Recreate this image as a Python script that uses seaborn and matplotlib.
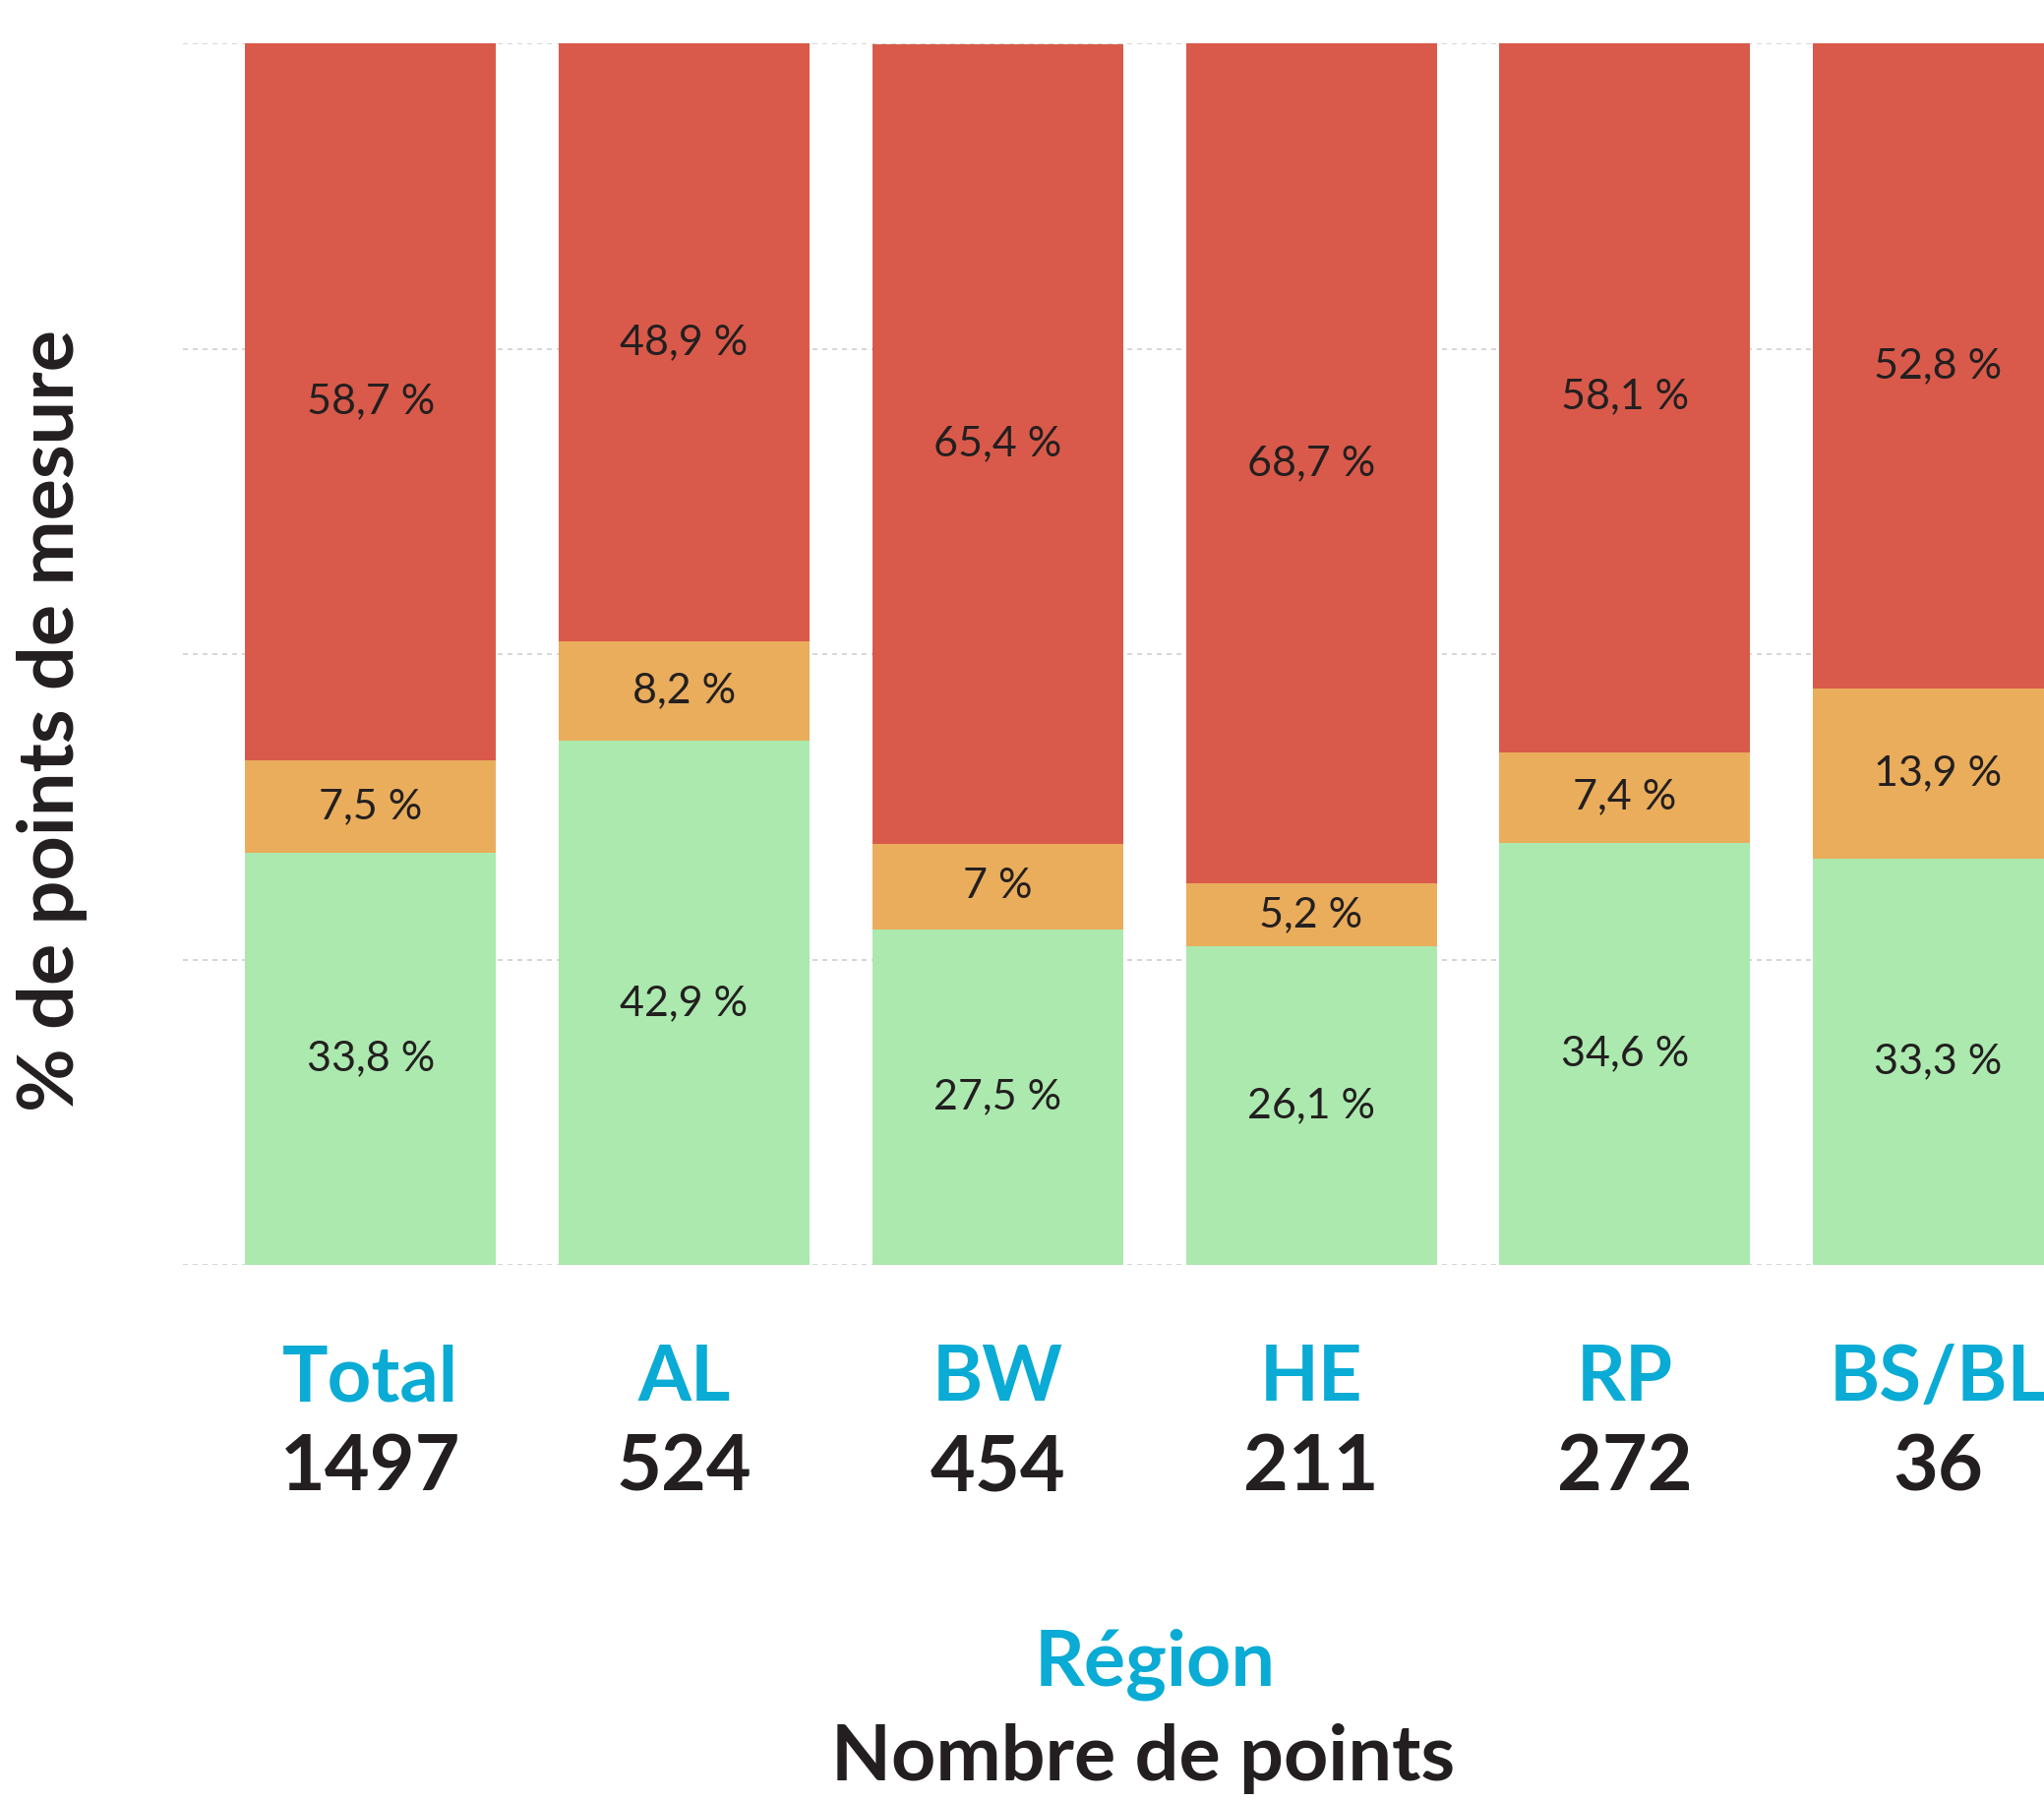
import matplotlib.pyplot as plt
import seaborn as sns
import pandas as pd

regions = ["Total", "AL", "BW", "HE", "RP", "BS/BL"]
counts = [1497, 524, 454, 211, 272, 36]
green_pct = [33.8, 42.9, 27.5, 26.1, 34.6, 33.3]
orange_pct = [7.5, 8.2, 7.0, 5.2, 7.4, 13.9]
red_pct = [58.7, 48.9, 65.4, 68.7, 58.1, 52.8]

RED = "#D95A4A"
ORANGE = "#E9AD5C"
GREEN = "#ABE9AE"
CYAN = "#0AABD4"
DARK = "#231F20"


def fmt(v):
    s = f"{v:.1f}".replace(".", ",")
    if s.endswith(",0"):
        s = s[:-2]
    return s + " %"


df = pd.DataFrame({"region": regions, "green": green_pct,
                   "orange": orange_pct, "red": red_pct})
df["lvl2"] = df["green"] + df["orange"]
df["lvl3"] = df["lvl2"] + df["red"]

sns.set_style("white")
plt.rcParams["font.family"] = ["Lato", "DejaVu Sans"]

fig = plt.figure(figsize=(20.78, 18.3), dpi=100)
ax = fig.add_axes([0.0893, 0.297, 0.951, 0.679])

# stacked bars: draw cumulative totals from the top down
for col, colour in [("lvl3", RED), ("lvl2", ORANGE), ("green", GREEN)]:
    sns.barplot(data=df, x="region", y=col, color=colour, width=0.8,
                saturation=1, linewidth=0, ax=ax, zorder=2)

# percentage labels centred in each segment
for i in range(len(regions)):
    ax.text(i, green_pct[i] / 2, fmt(green_pct[i]), ha="center", va="center",
            fontsize=31, color=DARK, zorder=3)
    ax.text(i, df["green"][i] + orange_pct[i] / 2, fmt(orange_pct[i]),
            ha="center", va="center", fontsize=31, color=DARK, zorder=3)
    ax.text(i, df["lvl2"][i] + red_pct[i] / 2, fmt(red_pct[i]),
            ha="center", va="center", fontsize=31, color=DARK, zorder=3)

ax.set_xlim(-0.6, 5.6)
ax.set_ylim(0, 100)
ax.set_yticks([0, 25, 50, 75, 100])
ax.yaxis.grid(True, linestyle=(0, (3, 3)), color="#cfcfcf", linewidth=1.2, zorder=0)
ax.set_axisbelow(True)
ax.tick_params(axis="both", length=0)
ax.set_yticklabels([])
ax.set_xticks(range(len(regions)))
ax.set_xticklabels([])
ax.set_xlabel("")
ax.set_ylabel("")
sns.despine(ax=ax, left=True, bottom=True)

# two-line tick labels: region name (cyan) and number of points (dark)
for i, (r, c) in enumerate(zip(regions, counts)):
    ax.annotate(r, xy=(i, 0), xycoords=("data", "axes fraction"),
                xytext=(0, -116), textcoords="offset pixels",
                ha="center", va="center", fontsize=56, fontweight="bold",
                color=CYAN, annotation_clip=False)
    ax.annotate(str(c), xy=(i, 0), xycoords=("data", "axes fraction"),
                xytext=(0, -207), textcoords="offset pixels",
                ha="center", va="center", fontsize=57, fontweight="bold",
                color=DARK, annotation_clip=False)

fig.text(0.565, 1 - 1692 / 1830, "Région", ha="center", va="center",
         fontsize=57, fontweight="bold", color=CYAN)
fig.text(0.559, 1 - 1788 / 1830, "Nombre de points", ha="center", va="center",
         fontsize=57, fontweight="bold", color=DARK)
fig.text(53 / 2078, 1 - 733 / 1830, "% de points de mesure", rotation=90,
         ha="center", va="center", fontsize=57, fontweight="bold", color=DARK)

fig.savefig("out.png", dpi=100)
plt.close(fig)
